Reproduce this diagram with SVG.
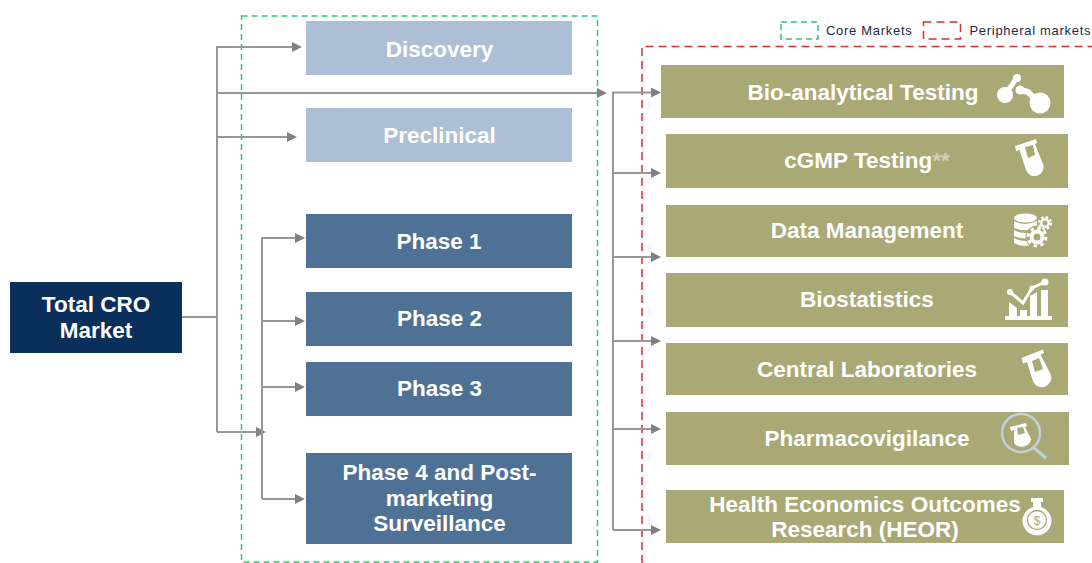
<svg xmlns="http://www.w3.org/2000/svg" width="1092" height="563" viewBox="0 0 1092 563">
<style>
text{font-family:"Liberation Sans",Arial,sans-serif;font-weight:700;fill:#fff;text-anchor:middle;font-size:22.500px}
.lt{fill:#adbfd6}.dk{fill:#507196}.ol{fill:#aaa975}.nv{fill:#0b2f5b}
.c{fill:none;stroke:#979797;stroke-width:2}
.g{fill:none;stroke:#2fc67a;stroke-width:1.500;stroke-dasharray:6 4}
.r{fill:none;stroke:#dc2f36;stroke-width:1.500;stroke-dasharray:8 5}
text.lg{font-weight:400;font-size:13px;letter-spacing:.7px;fill:#1f2a44;text-anchor:start}
.i{fill:#fff}.is{fill:none;stroke:#fff}.h{fill:#aaa975}
</style>
<defs><marker id="a" markerWidth="11" markerHeight="10" refX="0" refY="5" orient="auto" markerUnits="userSpaceOnUse"><path d="M0 0L10 5L0 10Z" fill="#808080"/></marker></defs>
<g id="legend">
<rect class="g" x="781" y="22" width="37" height="17"/><text class="lg" x="826" y="35">Core Markets</text>
<rect class="r" x="923.500" y="22" width="37" height="17"/><text class="lg" x="969.500" y="35">Peripheral markets</text>
</g>
<g id="region-core"><rect class="g" x="241.500" y="16" width="356" height="546"/></g>
<g id="region-peripheral"><path class="r" d="M642 563V46.500H1092"/></g>
<g id="connectors">
<path class="c" d="M182 317H217"/>
<path class="c" d="M217 432V47H292" marker-end="url(#a)"/>
<path class="c" d="M217 93H597" marker-end="url(#a)"/>
<path class="c" d="M217 137H287" marker-end="url(#a)"/>
<path class="c" d="M217 432H256" marker-end="url(#a)"/>
<path class="c" d="M262 499V238H295" marker-end="url(#a)"/>
<path class="c" d="M262 321H295" marker-end="url(#a)"/>
<path class="c" d="M262 387H295" marker-end="url(#a)"/>
<path class="c" d="M262 499H295" marker-end="url(#a)"/>
<path class="c" d="M613 530V92.500H651" marker-end="url(#a)"/>
<path class="c" d="M613 173H651" marker-end="url(#a)"/>
<path class="c" d="M613 257H651" marker-end="url(#a)"/>
<path class="c" d="M613 341H651" marker-end="url(#a)"/>
<path class="c" d="M613 429H651" marker-end="url(#a)"/>
<path class="c" d="M613 530H651" marker-end="url(#a)"/>
</g>
<g id="total"><rect class="nv" x="10" y="282" width="172" height="71"/><text x="96" y="312">Total CRO</text><text x="96" y="338">Market</text></g>
<g id="discovery"><rect class="lt" x="306" y="21" width="266" height="54"/><text x="439.500" y="57">Discovery</text></g>
<g id="preclinical"><rect class="lt" x="306" y="108" width="266" height="54"/><text x="439.500" y="143">Preclinical</text></g>
<g id="phase1"><rect class="dk" x="306" y="214" width="266" height="54"/><text x="439" y="249">Phase 1</text></g>
<g id="phase2"><rect class="dk" x="306" y="292" width="266" height="54"/><text x="439.500" y="326">Phase 2</text></g>
<g id="phase3"><rect class="dk" x="306" y="362" width="266" height="54"/><text x="439.500" y="396">Phase 3</text></g>
<g id="phase4"><rect class="dk" x="306" y="453" width="266" height="91"/><text x="439.500" y="480">Phase 4 and Post-</text><text x="439.500" y="506">marketing</text><text x="439.500" y="531">Surveillance</text></g>
<g id="bioanalytical"><rect class="ol" x="661" y="65" width="403" height="53"/><text x="863" y="100">Bio-analytical Testing</text>
<circle class="i" cx="1040" cy="103" r="10.500"/><circle class="i" cx="1005" cy="95" r="8"/><circle class="i" cx="1017" cy="78" r="4"/><circle class="i" cx="1020" cy="90" r="4.500"/><path class="is" stroke-width="5" d="M1007 92L1016 79"/><path class="is" stroke-width="6" d="M1020 90L1028 92L1036 100"/></g>
<g id="cgmp"><rect class="ol" x="666" y="134" width="402" height="54"/><text x="867" y="168">cGMP Testing<tspan fill="#cfd0b4">**</tspan></text>
<path class="i" d="M1015 146L1036 139L1037 143L1035 144L1043 164A9 9 0 0 1 1026 170L1019.500 150L1016 151Z"/><path class="h" d="M1025 147L1033 145L1035 155L1028 158Z"/></g>
<g id="data"><rect class="ol" x="666" y="205" width="402" height="52"/><text x="867" y="238">Data Management</text>
<ellipse class="i" cx="1025.500" cy="218" rx="11.500" ry="4.500"/><path class="i" d="M1014 221Q1025 227 1037 221V227.500Q1025 233 1014 227.500ZM1014 230Q1025 236 1037 230V236Q1025 241 1014 236ZM1014 238Q1025 244 1037 238V243Q1025 249 1014 243Z"/>
<circle class="h" cx="1037" cy="237" r="11.500"/><circle class="h" cx="1045" cy="223" r="8"/>
<circle class="i" cx="1045" cy="223" r="5"/><circle class="is" stroke-width="2" stroke-dasharray="2.500 2.210" cx="1045" cy="223" r="6"/><circle class="h" cx="1045" cy="223" r="2.500"/>
<circle class="i" cx="1037" cy="237" r="7.500"/><circle class="is" stroke-width="3" stroke-dasharray="3.500 3.570" cx="1037" cy="237" r="9"/><circle class="h" cx="1037" cy="237" r="3.500"/></g>
<g id="biostat"><rect class="ol" x="666" y="273" width="402" height="54"/><text x="867" y="307">Biostatistics</text>
<path class="i" d="M1005 316H1052V320H1005ZM1009 302L1017 308V316H1009ZM1020 310H1027V316H1020ZM1030 296L1037 292V316H1030ZM1041 290H1048V316H1041Z"/><path class="is" stroke-width="3" d="M1010 292L1023 303L1032 288L1045 282"/><circle class="i" cx="1045" cy="282" r="3.500"/><circle class="i" cx="1010" cy="292" r="3"/><circle class="i" cx="1032" cy="288" r="2.500"/></g>
<g id="central"><rect class="ol" x="666" y="343" width="402" height="52"/><text x="867" y="377">Central Laboratories</text>
<path class="i" d="M1021.500 358L1043 349.500L1044 353L1040.500 354.500L1050.500 374A9.500 9.500 0 0 1 1033 381.500L1027 362L1023 363.500Z"/><path class="h" d="M1032 361L1039 358L1043 369L1035 372Z"/></g>
<g id="pv"><rect class="ol" x="666" y="412" width="403" height="53"/><text x="867" y="446">Pharmacovigilance</text>
<circle cx="1021" cy="433" r="19" fill="none" stroke="#c3cfdc" stroke-width="2.500"/><path fill="none" stroke="#c3cfdc" stroke-width="3" d="M1034 448L1046 458"/>
<path class="i" d="M1010 427L1026 423L1027 426L1025 427L1031 439A9.500 9.500 0 0 1 1014 443L1014 430L1011 431Z"/><path class="h" d="M1017 428L1023 427L1025 433L1018 435Z"/></g>
<g id="heor"><rect class="ol" x="666" y="490" width="398" height="53"/><text x="865" y="512">Health Economics Outcomes</text><text x="865" y="537">Research (HEOR)</text>
<path class="i" d="M1031 498H1043V502H1041V507A14.500 14.500 0 1 1 1033 507V502H1031Z"/><circle cx="1037" cy="520" r="9.500" fill="none" stroke="#aaa975" stroke-width="1.300"/><text x="1037" y="524.500" style="font-size:12px;font-weight:400;fill:#aaa975">$</text></g>
</svg>
